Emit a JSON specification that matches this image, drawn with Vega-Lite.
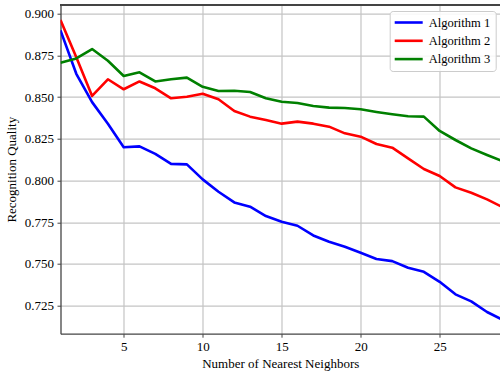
{
  "$schema": "https://vega.github.io/schema/vega-lite/v6.json",
  "autosize": "none",
  "width": 439.5,
  "height": 329,
  "padding": {"left": 60.5, "top": 4.7, "right": 0, "bottom": 40.3},
  "background": "white",
  "view": {"stroke": null},
  "config": {
    "font": "Liberation Serif",
    "axis": {
      "labelFont": "Liberation Serif",
      "titleFont": "Liberation Serif",
      "labelFontSize": 13,
      "titleFontSize": 13,
      "titleFontWeight": "normal",
      "labelColor": "#000000",
      "titleColor": "#000000",
      "domainColor": "#444444",
      "domainWidth": 1.3,
      "tickColor": "#444444",
      "tickSize": 3.5,
      "tickWidth": 1,
      "gridColor": "#c4c4c4",
      "gridWidth": 1.2,
      "labelPadding": 3.5
    },
    "legend": {
      "labelFont": "Liberation Serif",
      "labelFontSize": 12.5,
      "labelColor": "#000000"
    }
  },
  "data": {
    "values": [
      {"k": 1, "alg": "Algorithm 1", "q": 0.890},
      {"k": 2, "alg": "Algorithm 1", "q": 0.864},
      {"k": 3, "alg": "Algorithm 1", "q": 0.847},
      {"k": 4, "alg": "Algorithm 1", "q": 0.834},
      {"k": 5, "alg": "Algorithm 1", "q": 0.820},
      {"k": 6, "alg": "Algorithm 1", "q": 0.8205},
      {"k": 7, "alg": "Algorithm 1", "q": 0.816},
      {"k": 8, "alg": "Algorithm 1", "q": 0.810},
      {"k": 9, "alg": "Algorithm 1", "q": 0.8097},
      {"k": 10, "alg": "Algorithm 1", "q": 0.8007},
      {"k": 11, "alg": "Algorithm 1", "q": 0.7933},
      {"k": 12, "alg": "Algorithm 1", "q": 0.7869},
      {"k": 13, "alg": "Algorithm 1", "q": 0.7843},
      {"k": 14, "alg": "Algorithm 1", "q": 0.7787},
      {"k": 15, "alg": "Algorithm 1", "q": 0.7753},
      {"k": 16, "alg": "Algorithm 1", "q": 0.7729},
      {"k": 17, "alg": "Algorithm 1", "q": 0.7671},
      {"k": 18, "alg": "Algorithm 1", "q": 0.7633},
      {"k": 19, "alg": "Algorithm 1", "q": 0.7603},
      {"k": 20, "alg": "Algorithm 1", "q": 0.7567},
      {"k": 21, "alg": "Algorithm 1", "q": 0.7530},
      {"k": 22, "alg": "Algorithm 1", "q": 0.7517},
      {"k": 23, "alg": "Algorithm 1", "q": 0.7477},
      {"k": 24, "alg": "Algorithm 1", "q": 0.7453},
      {"k": 25, "alg": "Algorithm 1", "q": 0.7393},
      {"k": 26, "alg": "Algorithm 1", "q": 0.7318},
      {"k": 27, "alg": "Algorithm 1", "q": 0.7276},
      {"k": 28, "alg": "Algorithm 1", "q": 0.7212},
      {"k": 29, "alg": "Algorithm 1", "q": 0.7165},
      {"k": 1, "alg": "Algorithm 2", "q": 0.8962},
      {"k": 2, "alg": "Algorithm 2", "q": 0.8739},
      {"k": 3, "alg": "Algorithm 2", "q": 0.8507},
      {"k": 4, "alg": "Algorithm 2", "q": 0.8607},
      {"k": 5, "alg": "Algorithm 2", "q": 0.8547},
      {"k": 6, "alg": "Algorithm 2", "q": 0.8594},
      {"k": 7, "alg": "Algorithm 2", "q": 0.8553},
      {"k": 8, "alg": "Algorithm 2", "q": 0.8493},
      {"k": 9, "alg": "Algorithm 2", "q": 0.8502},
      {"k": 10, "alg": "Algorithm 2", "q": 0.852},
      {"k": 11, "alg": "Algorithm 2", "q": 0.8487},
      {"k": 12, "alg": "Algorithm 2", "q": 0.8417},
      {"k": 13, "alg": "Algorithm 2", "q": 0.8383},
      {"k": 14, "alg": "Algorithm 2", "q": 0.8363},
      {"k": 15, "alg": "Algorithm 2", "q": 0.8341},
      {"k": 16, "alg": "Algorithm 2", "q": 0.8353},
      {"k": 17, "alg": "Algorithm 2", "q": 0.8341},
      {"k": 18, "alg": "Algorithm 2", "q": 0.8323},
      {"k": 19, "alg": "Algorithm 2", "q": 0.8283},
      {"k": 20, "alg": "Algorithm 2", "q": 0.8263},
      {"k": 21, "alg": "Algorithm 2", "q": 0.8219},
      {"k": 22, "alg": "Algorithm 2", "q": 0.8197},
      {"k": 23, "alg": "Algorithm 2", "q": 0.8133},
      {"k": 24, "alg": "Algorithm 2", "q": 0.8069},
      {"k": 25, "alg": "Algorithm 2", "q": 0.8027},
      {"k": 26, "alg": "Algorithm 2", "q": 0.7959},
      {"k": 27, "alg": "Algorithm 2", "q": 0.7927},
      {"k": 28, "alg": "Algorithm 2", "q": 0.7887},
      {"k": 29, "alg": "Algorithm 2", "q": 0.784},
      {"k": 1, "alg": "Algorithm 3", "q": 0.8706},
      {"k": 2, "alg": "Algorithm 3", "q": 0.8732},
      {"k": 3, "alg": "Algorithm 3", "q": 0.8788},
      {"k": 4, "alg": "Algorithm 3", "q": 0.8718},
      {"k": 5, "alg": "Algorithm 3", "q": 0.8627},
      {"k": 6, "alg": "Algorithm 3", "q": 0.8649},
      {"k": 7, "alg": "Algorithm 3", "q": 0.8594},
      {"k": 8, "alg": "Algorithm 3", "q": 0.8607},
      {"k": 9, "alg": "Algorithm 3", "q": 0.8617},
      {"k": 10, "alg": "Algorithm 3", "q": 0.8562},
      {"k": 11, "alg": "Algorithm 3", "q": 0.8537},
      {"k": 12, "alg": "Algorithm 3", "q": 0.8538},
      {"k": 13, "alg": "Algorithm 3", "q": 0.8531},
      {"k": 14, "alg": "Algorithm 3", "q": 0.8493},
      {"k": 15, "alg": "Algorithm 3", "q": 0.8472},
      {"k": 16, "alg": "Algorithm 3", "q": 0.8465},
      {"k": 17, "alg": "Algorithm 3", "q": 0.8447},
      {"k": 18, "alg": "Algorithm 3", "q": 0.8437},
      {"k": 19, "alg": "Algorithm 3", "q": 0.8435},
      {"k": 20, "alg": "Algorithm 3", "q": 0.8427},
      {"k": 21, "alg": "Algorithm 3", "q": 0.8411},
      {"k": 22, "alg": "Algorithm 3", "q": 0.8397},
      {"k": 23, "alg": "Algorithm 3", "q": 0.8385},
      {"k": 24, "alg": "Algorithm 3", "q": 0.8383},
      {"k": 25, "alg": "Algorithm 3", "q": 0.8297},
      {"k": 26, "alg": "Algorithm 3", "q": 0.8243},
      {"k": 27, "alg": "Algorithm 3", "q": 0.8193},
      {"k": 28, "alg": "Algorithm 3", "q": 0.8153},
      {"k": 29, "alg": "Algorithm 3", "q": 0.8115}
    ]
  },
  "layer": [
    {
      "mark": {"type": "line", "strokeWidth": 2.6, "clip": true, "strokeJoin": "round"},
      "encoding": {
        "x": {
          "field": "k", "type": "quantitative",
          "scale": {"domain": [1, 28.82], "nice": false, "zero": false},
          "axis": {"values": [5, 10, 15, 20, 25], "title": "Number of Nearest Neighbors", "titlePadding": 4}
        },
        "y": {
          "field": "q", "type": "quantitative",
          "scale": {"domain": [0.7082, 0.9054], "nice": false, "zero": false},
          "axis": {"values": [0.725, 0.75, 0.775, 0.8, 0.825, 0.85, 0.875, 0.9], "format": ".3f", "title": "Recognition Quality", "titlePadding": 6}
        },
        "color": {
          "field": "alg", "type": "nominal",
          "scale": {"domain": ["Algorithm 1", "Algorithm 2", "Algorithm 3"], "range": ["#0000ff", "#ff0000", "#008000"]},
          "legend": {
            "title": null,
            "orient": "none",
            "legendX": 329.2,
            "legendY": 6.3,
            "symbolType": "M-1.3,0H4.3",
            "symbolSize": 100,
            "symbolStrokeWidth": 2.6,
            "labelOffset": 21,
            "rowPadding": 5.3,
            "padding": 5,
            "fillColor": "rgba(255,255,255,0.85)",
            "strokeColor": "#cccccc",
            "cornerRadius": 3
          }
        }
      }
    },
    {
      "mark": {"type": "rule", "color": "#444444", "strokeWidth": 1.3},
      "encoding": {"y": {"datum": 0.9054}}
    }
  ]
}
